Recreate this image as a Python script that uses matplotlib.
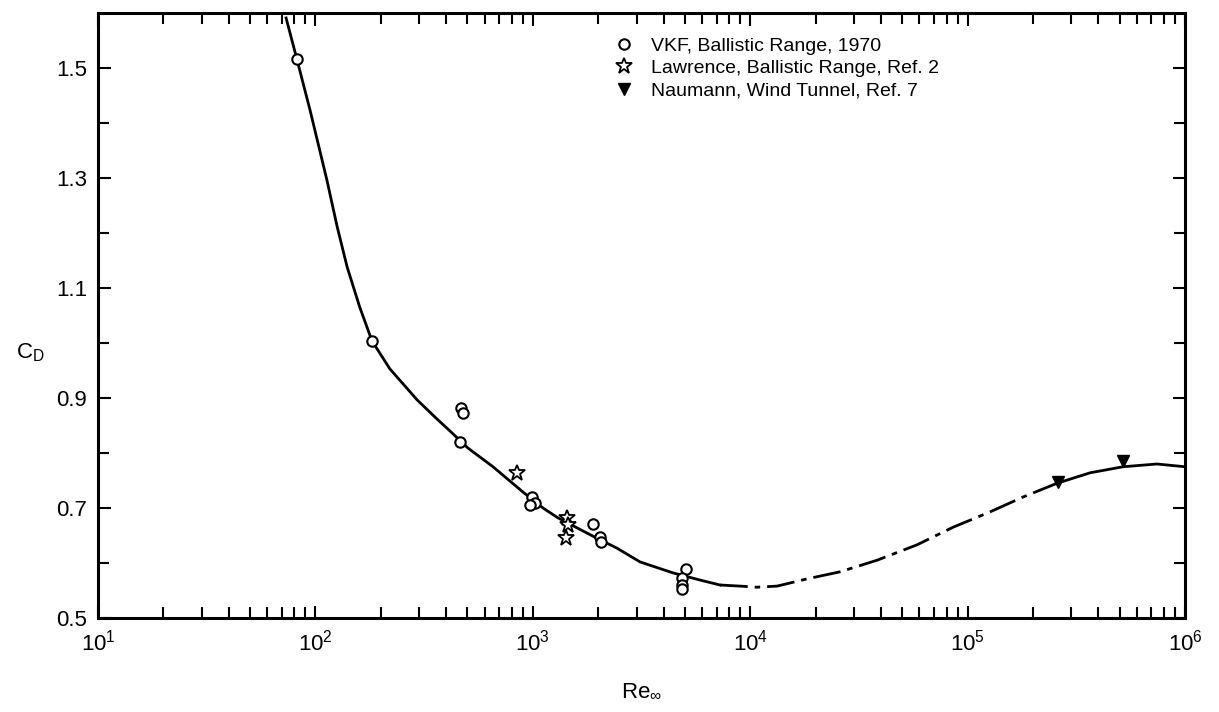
import numpy as np
import matplotlib
matplotlib.use("Agg")
import matplotlib.pyplot as plt
from matplotlib.ticker import FixedLocator, LogLocator, NullFormatter

plt.rcParams['font.family'] = ['Liberation Sans', 'DejaVu Sans']
plt.rcParams['mathtext.fontset'] = 'custom'
plt.rcParams['mathtext.rm'] = 'Liberation Sans'

# VKF ballistic range data, 1970
vkf_re = [82, 182, 468, 478, 462, 991, 1023, 970, 1890, 2040, 2060, 5070, 4850, 4850, 4870]
vkf_cd = [1.516, 1.004, 0.882, 0.873, 0.820, 0.720, 0.709, 0.705, 0.671, 0.647, 0.638,
          0.589, 0.573, 0.560, 0.553]

# Lawrence, ballistic range (Ref. 2)
law_re = [845, 1436, 1450, 1420]
law_cd = [0.764, 0.682, 0.669, 0.645]

# Naumann, wind tunnel (Ref. 7)
nau_re = [2.6e5, 5.19e5]
nau_cd = [0.748, 0.786]

# faired curve
curve_re = [73.3, 82.2, 94.4, 113, 126, 140, 160, 182, 220, 293, 362, 416, 503,
            656, 901, 1114, 1306, 1596, 1973, 2439, 3112, 4415, 5876, 7262, 8977, 1.075e4,
            1.33e4, 1.82e4, 2.59e4, 3.83e4, 5.85e4, 8.57e4, 1.27e5, 1.80e5, 2.58e5, 3.66e5,
            5.19e5, 7.43e5, 1e6]
curve_cd = [1.591, 1.516, 1.424, 1.296, 1.211, 1.138, 1.065, 1.004, 0.953, 0.897,
            0.862, 0.840, 0.809, 0.775, 0.729, 0.700, 0.682, 0.664, 0.645, 0.627,
            0.602, 0.582, 0.569, 0.560, 0.558, 0.556, 0.558, 0.571, 0.584, 0.605, 0.633,
            0.665, 0.693, 0.720, 0.745, 0.764, 0.775, 0.780, 0.775]
i_dash0 = 23   # solid up to here, then dash-dot extrapolation
i_dash1 = 34   # solid again from the wind tunnel points on

fig = plt.figure(figsize=(12.19, 7.12), dpi=100)
ax = fig.add_axes([98 / 1219, 1 - 618 / 712, 1087 / 1219, 605 / 712])

ax.plot(curve_re[:i_dash0 + 1], curve_cd[:i_dash0 + 1], color='black', lw=2.0, zorder=2)
ax.plot(curve_re[i_dash0:i_dash1 + 1], curve_cd[i_dash0:i_dash1 + 1], color='black', lw=2.0,
        linestyle=(0, (10, 2.5, 2, 2.5)), zorder=2)
ax.plot(curve_re[i_dash1:], curve_cd[i_dash1:], color='black', lw=2.0, zorder=2)

ax.plot(vkf_re, vkf_cd, 'o', ms=7.5, mfc='white', mec='black', mew=1.5, ls='none',
        zorder=3, label='VKF, Ballistic Range, 1970')
ax.plot(law_re, law_cd, '*', ms=12, mfc='white', mec='black', mew=1.3, ls='none',
        zorder=3, label='Lawrence, Ballistic Range, Ref. 2')
ax.plot(nau_re, nau_cd, 'v', ms=9, mfc='black', mec='black', ls='none',
        zorder=3, label='Naumann, Wind Tunnel, Ref. 7')

ax.set_xscale('log')
ax.set_xlim(10, 1e6)
ax.set_ylim(0.5, 1.6)

ax.yaxis.set_major_locator(FixedLocator([0.5, 0.7, 0.9, 1.1, 1.3, 1.5]))
ax.yaxis.set_minor_locator(FixedLocator([0.6, 0.8, 1.0, 1.2, 1.4]))
ax.set_yticklabels(['0.5', '0.7', '0.9', '1.1', '1.3', '1.5'])
ax.xaxis.set_minor_locator(LogLocator(base=10, subs=np.arange(2, 10), numticks=20))
ax.xaxis.set_minor_formatter(NullFormatter())
ax.set_xticks([1e1, 1e2, 1e3, 1e4, 1e5, 1e6])
ax.set_xticklabels([r'$10^{1}$', r'$10^{2}$', r'$10^{3}$', r'$10^{4}$', r'$10^{5}$', r'$10^{6}$'])

ax.tick_params(which='both', direction='in', top=True, right=True, width=1.5,
               labelsize=16, pad=8)
ax.tick_params(which='major', length=9)
ax.tick_params(which='minor', length=8)
for s in ax.spines.values():
    s.set_linewidth(2.2)

ax.set_xlabel(r'Re$_{\infty}$', fontsize=16, labelpad=18)
ax.set_ylabel(r'C$_\mathrm{D}$', fontsize=16, rotation=0)
ax.yaxis.set_label_coords(-0.062, 0.42)

ax.legend(loc='upper left', bbox_to_anchor=(0.468, 0.973), frameon=False, fontsize=14,
          handlelength=1.0, handletextpad=0.9, labelspacing=0.25, borderaxespad=0)

fig.savefig('out.png', dpi=100)
